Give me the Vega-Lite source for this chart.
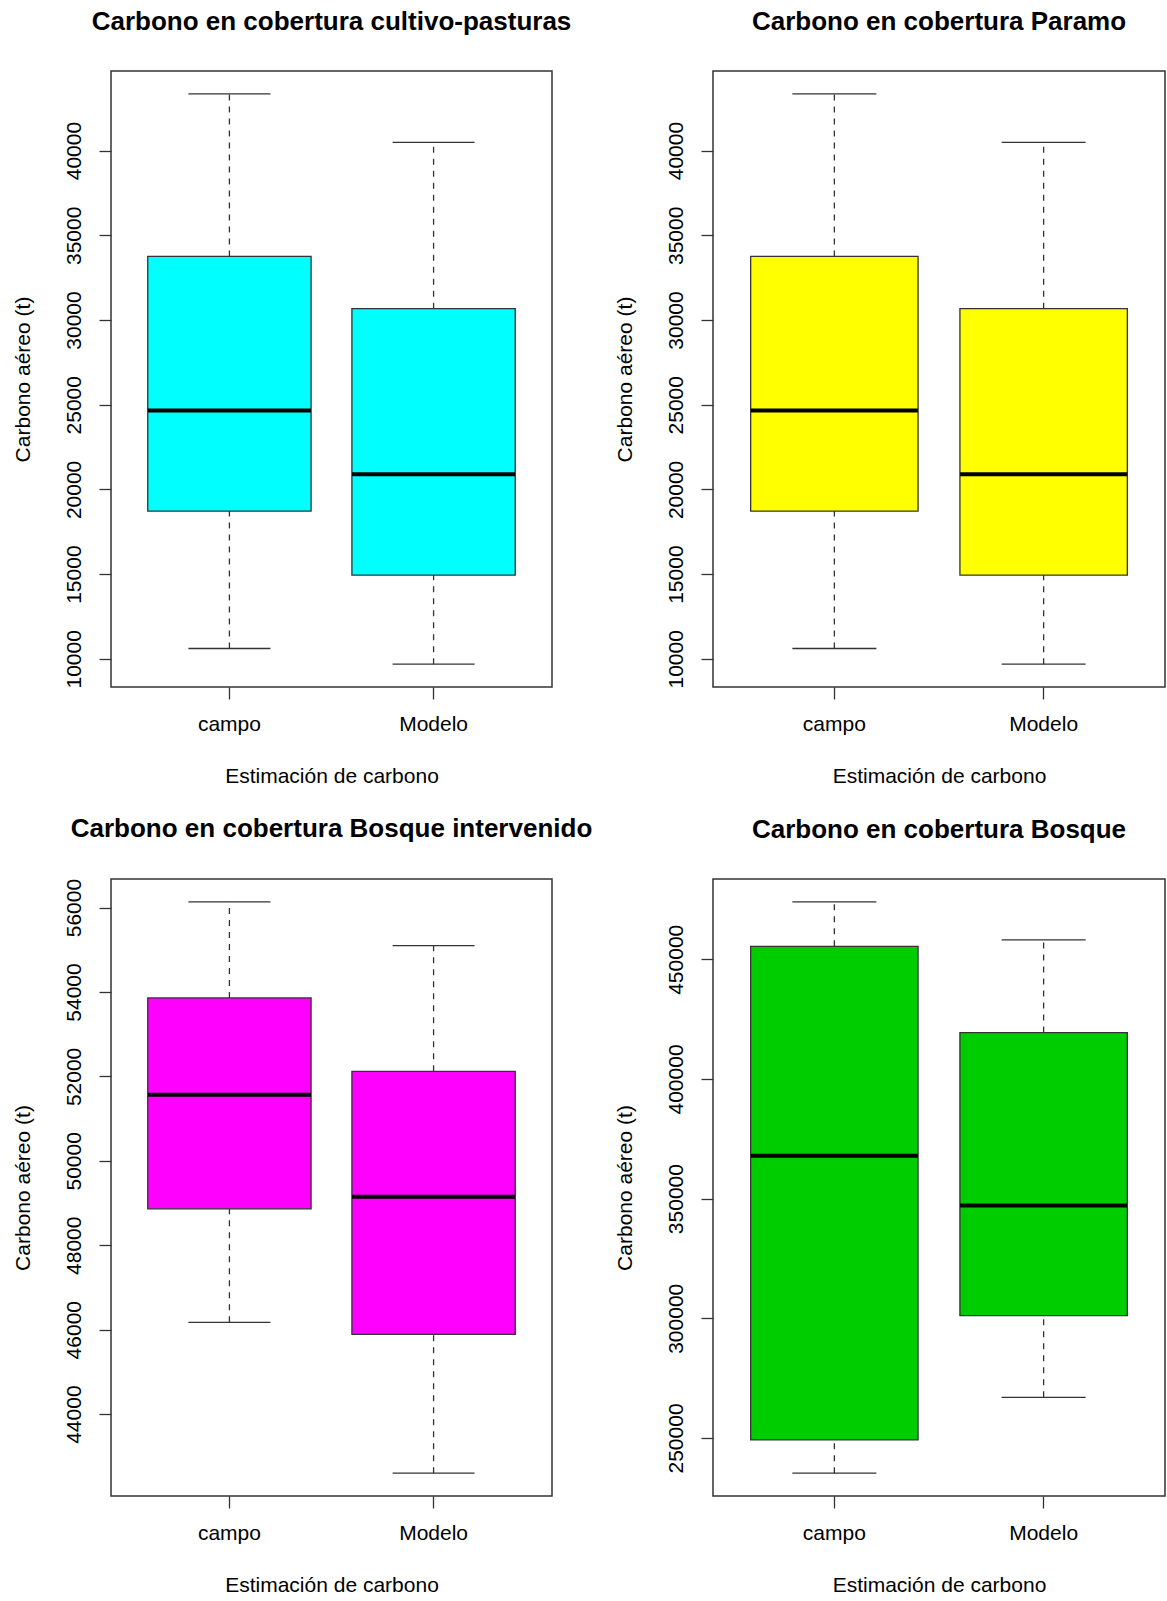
{
  "$schema": "https://vega.github.io/schema/vega-lite/v6.json",
  "background": "white",
  "padding": {"left": 11, "top": 8, "right": 0, "bottom": 0},
  "data": {
    "values": [
      {"cobertura": "cultivo-pasturas", "estimacion": "campo", "minimo": 10610, "q1": 18720, "mediana": 24660, "q3": 33750, "maximo": 43350},
      {"cobertura": "cultivo-pasturas", "estimacion": "Modelo", "minimo": 9685, "q1": 14945, "mediana": 20895, "q3": 30670, "maximo": 40480},
      {"cobertura": "Paramo", "estimacion": "campo", "minimo": 10610, "q1": 18720, "mediana": 24660, "q3": 33750, "maximo": 43350},
      {"cobertura": "Paramo", "estimacion": "Modelo", "minimo": 9685, "q1": 14945, "mediana": 20895, "q3": 30670, "maximo": 40480},
      {"cobertura": "Bosque intervenido", "estimacion": "campo", "minimo": 46174, "q1": 48862, "mediana": 51565, "q3": 53858, "maximo": 56135},
      {"cobertura": "Bosque intervenido", "estimacion": "Modelo", "minimo": 42601, "q1": 45890, "mediana": 49146, "q3": 52120, "maximo": 55099},
      {"cobertura": "Bosque", "estimacion": "campo", "minimo": 235300, "q1": 249200, "mediana": 367900, "q3": 455400, "maximo": 474000},
      {"cobertura": "Bosque", "estimacion": "Modelo", "minimo": 267000, "q1": 301100, "mediana": 347100, "q3": 419400, "maximo": 458100}
    ]
  },
  "columns": 2,
  "align": "all",
  "bounds": "flush",
  "spacing": {"row": 191, "column": 150},
  "concat": [
    {
      "title": "Carbono en cobertura cultivo-pasturas",
      "width": 441,
      "height": 616,
      "transform": [{"filter": "datum.cobertura === 'cultivo-pasturas'"}],
      "encoding": {
        "x": {"field": "estimacion", "type": "nominal", "sort": ["campo", "Modelo"], "scale": {"paddingInner": 0.2, "paddingOuter": 0.18}, "title": "Estimación de carbono",
          "axis": {"labelAngle": 0, "labelPadding": 31, "labelBaseline": "alphabetic", "titleY": 95, "titleBaseline": "alphabetic"}}
      },
      "layer": [
        {"mark": {"type": "rule", "color": "#333", "strokeWidth": 1.3, "strokeDash": [6, 6], "opacity": 1},
         "encoding": {"y": {"field": "q3", "type": "quantitative", "title": "Carbono aéreo (t)", "scale": {"domain": [8338, 44697], "nice": false, "zero": false},
           "axis": {"values": [10000, 15000, 20000, 25000, 30000, 35000, 40000], "format": "d", "labelAngle": -90, "labelAlign": "center", "labelBaseline": "alphabetic", "labelPadding": 19, "titleX": -82, "titleBaseline": "alphabetic", "labelOverlap": false, "labelFlush": false}},
           "y2": {"field": "maximo"}}},
        {"mark": {"type": "rule", "color": "#333", "strokeWidth": 1.3, "strokeDash": [6, 6], "opacity": 1},
         "encoding": {"y": {"field": "minimo", "type": "quantitative", "title": "Carbono aéreo (t)", "scale": {"domain": [8338, 44697], "nice": false, "zero": false},
           "axis": {"values": [10000, 15000, 20000, 25000, 30000, 35000, 40000], "format": "d", "labelAngle": -90, "labelAlign": "center", "labelBaseline": "alphabetic", "labelPadding": 19, "titleX": -82, "titleBaseline": "alphabetic", "labelOverlap": false, "labelFlush": false}},
           "y2": {"field": "q1"}}},
        {"mark": {"type": "tick", "color": "#333", "size": 82, "thickness": 1.3, "opacity": 1},
         "encoding": {"y": {"field": "maximo", "type": "quantitative", "title": "Carbono aéreo (t)", "scale": {"domain": [8338, 44697], "nice": false, "zero": false},
           "axis": {"values": [10000, 15000, 20000, 25000, 30000, 35000, 40000], "format": "d", "labelAngle": -90, "labelAlign": "center", "labelBaseline": "alphabetic", "labelPadding": 19, "titleX": -82, "titleBaseline": "alphabetic", "labelOverlap": false, "labelFlush": false}}}},
        {"mark": {"type": "tick", "color": "#333", "size": 82, "thickness": 1.3, "opacity": 1},
         "encoding": {"y": {"field": "minimo", "type": "quantitative", "title": "Carbono aéreo (t)", "scale": {"domain": [8338, 44697], "nice": false, "zero": false},
           "axis": {"values": [10000, 15000, 20000, 25000, 30000, 35000, 40000], "format": "d", "labelAngle": -90, "labelAlign": "center", "labelBaseline": "alphabetic", "labelPadding": 19, "titleX": -82, "titleBaseline": "alphabetic", "labelOverlap": false, "labelFlush": false}}}},
        {"mark": {"type": "bar", "fill": "#00FFFF", "stroke": "#333", "strokeWidth": 1.3, "opacity": 1},
         "encoding": {"y": {"field": "q1", "type": "quantitative", "title": "Carbono aéreo (t)", "scale": {"domain": [8338, 44697], "nice": false, "zero": false},
           "axis": {"values": [10000, 15000, 20000, 25000, 30000, 35000, 40000], "format": "d", "labelAngle": -90, "labelAlign": "center", "labelBaseline": "alphabetic", "labelPadding": 19, "titleX": -82, "titleBaseline": "alphabetic", "labelOverlap": false, "labelFlush": false}},
           "y2": {"field": "q3"}}},
        {"mark": {"type": "tick", "color": "#000", "size": 163, "thickness": 4, "opacity": 1},
         "encoding": {"y": {"field": "mediana", "type": "quantitative", "title": "Carbono aéreo (t)", "scale": {"domain": [8338, 44697], "nice": false, "zero": false},
           "axis": {"values": [10000, 15000, 20000, 25000, 30000, 35000, 40000], "format": "d", "labelAngle": -90, "labelAlign": "center", "labelBaseline": "alphabetic", "labelPadding": 19, "titleX": -82, "titleBaseline": "alphabetic", "labelOverlap": false, "labelFlush": false}}}}
      ]
    },
    {
      "title": "Carbono en cobertura Paramo",
      "width": 452,
      "height": 616,
      "transform": [{"filter": "datum.cobertura === 'Paramo'"}],
      "encoding": {
        "x": {"field": "estimacion", "type": "nominal", "sort": ["campo", "Modelo"], "scale": {"paddingInner": 0.2, "paddingOuter": 0.18}, "title": "Estimación de carbono",
          "axis": {"labelAngle": 0, "labelPadding": 31, "labelBaseline": "alphabetic", "titleY": 95, "titleBaseline": "alphabetic"}}
      },
      "layer": [
        {"mark": {"type": "rule", "color": "#333", "strokeWidth": 1.3, "strokeDash": [6, 6], "opacity": 1},
         "encoding": {"y": {"field": "q3", "type": "quantitative", "title": "Carbono aéreo (t)", "scale": {"domain": [8338, 44697], "nice": false, "zero": false},
           "axis": {"values": [10000, 15000, 20000, 25000, 30000, 35000, 40000], "format": "d", "labelAngle": -90, "labelAlign": "center", "labelBaseline": "alphabetic", "labelPadding": 19, "titleX": -82, "titleBaseline": "alphabetic", "labelOverlap": false, "labelFlush": false}},
           "y2": {"field": "maximo"}}},
        {"mark": {"type": "rule", "color": "#333", "strokeWidth": 1.3, "strokeDash": [6, 6], "opacity": 1},
         "encoding": {"y": {"field": "minimo", "type": "quantitative", "title": "Carbono aéreo (t)", "scale": {"domain": [8338, 44697], "nice": false, "zero": false},
           "axis": {"values": [10000, 15000, 20000, 25000, 30000, 35000, 40000], "format": "d", "labelAngle": -90, "labelAlign": "center", "labelBaseline": "alphabetic", "labelPadding": 19, "titleX": -82, "titleBaseline": "alphabetic", "labelOverlap": false, "labelFlush": false}},
           "y2": {"field": "q1"}}},
        {"mark": {"type": "tick", "color": "#333", "size": 84, "thickness": 1.3, "opacity": 1},
         "encoding": {"y": {"field": "maximo", "type": "quantitative", "title": "Carbono aéreo (t)", "scale": {"domain": [8338, 44697], "nice": false, "zero": false},
           "axis": {"values": [10000, 15000, 20000, 25000, 30000, 35000, 40000], "format": "d", "labelAngle": -90, "labelAlign": "center", "labelBaseline": "alphabetic", "labelPadding": 19, "titleX": -82, "titleBaseline": "alphabetic", "labelOverlap": false, "labelFlush": false}}}},
        {"mark": {"type": "tick", "color": "#333", "size": 84, "thickness": 1.3, "opacity": 1},
         "encoding": {"y": {"field": "minimo", "type": "quantitative", "title": "Carbono aéreo (t)", "scale": {"domain": [8338, 44697], "nice": false, "zero": false},
           "axis": {"values": [10000, 15000, 20000, 25000, 30000, 35000, 40000], "format": "d", "labelAngle": -90, "labelAlign": "center", "labelBaseline": "alphabetic", "labelPadding": 19, "titleX": -82, "titleBaseline": "alphabetic", "labelOverlap": false, "labelFlush": false}}}},
        {"mark": {"type": "bar", "fill": "#FFFF00", "stroke": "#333", "strokeWidth": 1.3, "opacity": 1},
         "encoding": {"y": {"field": "q1", "type": "quantitative", "title": "Carbono aéreo (t)", "scale": {"domain": [8338, 44697], "nice": false, "zero": false},
           "axis": {"values": [10000, 15000, 20000, 25000, 30000, 35000, 40000], "format": "d", "labelAngle": -90, "labelAlign": "center", "labelBaseline": "alphabetic", "labelPadding": 19, "titleX": -82, "titleBaseline": "alphabetic", "labelOverlap": false, "labelFlush": false}},
           "y2": {"field": "q3"}}},
        {"mark": {"type": "tick", "color": "#000", "size": 167, "thickness": 4, "opacity": 1},
         "encoding": {"y": {"field": "mediana", "type": "quantitative", "title": "Carbono aéreo (t)", "scale": {"domain": [8338, 44697], "nice": false, "zero": false},
           "axis": {"values": [10000, 15000, 20000, 25000, 30000, 35000, 40000], "format": "d", "labelAngle": -90, "labelAlign": "center", "labelBaseline": "alphabetic", "labelPadding": 19, "titleX": -82, "titleBaseline": "alphabetic", "labelOverlap": false, "labelFlush": false}}}}
      ]
    },
    {
      "title": "Carbono en cobertura Bosque intervenido",
      "width": 441,
      "height": 617,
      "transform": [{"filter": "datum.cobertura === 'Bosque intervenido'"}],
      "encoding": {
        "x": {"field": "estimacion", "type": "nominal", "sort": ["campo", "Modelo"], "scale": {"paddingInner": 0.2, "paddingOuter": 0.18}, "title": "Estimación de carbono",
          "axis": {"labelAngle": 0, "labelPadding": 31, "labelBaseline": "alphabetic", "titleY": 95, "titleBaseline": "alphabetic"}}
      },
      "layer": [
        {"mark": {"type": "rule", "color": "#333", "strokeWidth": 1.3, "strokeDash": [6, 6], "opacity": 1},
         "encoding": {"y": {"field": "q3", "type": "quantitative", "title": "Carbono aéreo (t)", "scale": {"domain": [42060, 56676], "nice": false, "zero": false},
           "axis": {"values": [44000, 46000, 48000, 50000, 52000, 54000, 56000], "format": "d", "labelAngle": -90, "labelAlign": "center", "labelBaseline": "alphabetic", "labelPadding": 19, "titleX": -82, "titleBaseline": "alphabetic", "labelOverlap": false, "labelFlush": false}},
           "y2": {"field": "maximo"}}},
        {"mark": {"type": "rule", "color": "#333", "strokeWidth": 1.3, "strokeDash": [6, 6], "opacity": 1},
         "encoding": {"y": {"field": "minimo", "type": "quantitative", "title": "Carbono aéreo (t)", "scale": {"domain": [42060, 56676], "nice": false, "zero": false},
           "axis": {"values": [44000, 46000, 48000, 50000, 52000, 54000, 56000], "format": "d", "labelAngle": -90, "labelAlign": "center", "labelBaseline": "alphabetic", "labelPadding": 19, "titleX": -82, "titleBaseline": "alphabetic", "labelOverlap": false, "labelFlush": false}},
           "y2": {"field": "q1"}}},
        {"mark": {"type": "tick", "color": "#333", "size": 82, "thickness": 1.3, "opacity": 1},
         "encoding": {"y": {"field": "maximo", "type": "quantitative", "title": "Carbono aéreo (t)", "scale": {"domain": [42060, 56676], "nice": false, "zero": false},
           "axis": {"values": [44000, 46000, 48000, 50000, 52000, 54000, 56000], "format": "d", "labelAngle": -90, "labelAlign": "center", "labelBaseline": "alphabetic", "labelPadding": 19, "titleX": -82, "titleBaseline": "alphabetic", "labelOverlap": false, "labelFlush": false}}}},
        {"mark": {"type": "tick", "color": "#333", "size": 82, "thickness": 1.3, "opacity": 1},
         "encoding": {"y": {"field": "minimo", "type": "quantitative", "title": "Carbono aéreo (t)", "scale": {"domain": [42060, 56676], "nice": false, "zero": false},
           "axis": {"values": [44000, 46000, 48000, 50000, 52000, 54000, 56000], "format": "d", "labelAngle": -90, "labelAlign": "center", "labelBaseline": "alphabetic", "labelPadding": 19, "titleX": -82, "titleBaseline": "alphabetic", "labelOverlap": false, "labelFlush": false}}}},
        {"mark": {"type": "bar", "fill": "#FF00FF", "stroke": "#333", "strokeWidth": 1.3, "opacity": 1},
         "encoding": {"y": {"field": "q1", "type": "quantitative", "title": "Carbono aéreo (t)", "scale": {"domain": [42060, 56676], "nice": false, "zero": false},
           "axis": {"values": [44000, 46000, 48000, 50000, 52000, 54000, 56000], "format": "d", "labelAngle": -90, "labelAlign": "center", "labelBaseline": "alphabetic", "labelPadding": 19, "titleX": -82, "titleBaseline": "alphabetic", "labelOverlap": false, "labelFlush": false}},
           "y2": {"field": "q3"}}},
        {"mark": {"type": "tick", "color": "#000", "size": 163, "thickness": 4, "opacity": 1},
         "encoding": {"y": {"field": "mediana", "type": "quantitative", "title": "Carbono aéreo (t)", "scale": {"domain": [42060, 56676], "nice": false, "zero": false},
           "axis": {"values": [44000, 46000, 48000, 50000, 52000, 54000, 56000], "format": "d", "labelAngle": -90, "labelAlign": "center", "labelBaseline": "alphabetic", "labelPadding": 19, "titleX": -82, "titleBaseline": "alphabetic", "labelOverlap": false, "labelFlush": false}}}}
      ]
    },
    {
      "title": "Carbono en cobertura Bosque",
      "width": 452,
      "height": 617,
      "transform": [{"filter": "datum.cobertura === 'Bosque'"}],
      "encoding": {
        "x": {"field": "estimacion", "type": "nominal", "sort": ["campo", "Modelo"], "scale": {"paddingInner": 0.2, "paddingOuter": 0.18}, "title": "Estimación de carbono",
          "axis": {"labelAngle": 0, "labelPadding": 31, "labelBaseline": "alphabetic", "titleY": 95, "titleBaseline": "alphabetic"}}
      },
      "layer": [
        {"mark": {"type": "rule", "color": "#333", "strokeWidth": 1.3, "strokeDash": [6, 6], "opacity": 1},
         "encoding": {"y": {"field": "q3", "type": "quantitative", "title": "Carbono aéreo (t)", "scale": {"domain": [225752, 483548], "nice": false, "zero": false},
           "axis": {"values": [250000, 300000, 350000, 400000, 450000], "format": "d", "labelAngle": -90, "labelAlign": "center", "labelBaseline": "alphabetic", "labelPadding": 19, "titleX": -82, "titleBaseline": "alphabetic", "labelOverlap": false, "labelFlush": false}},
           "y2": {"field": "maximo"}}},
        {"mark": {"type": "rule", "color": "#333", "strokeWidth": 1.3, "strokeDash": [6, 6], "opacity": 1},
         "encoding": {"y": {"field": "minimo", "type": "quantitative", "title": "Carbono aéreo (t)", "scale": {"domain": [225752, 483548], "nice": false, "zero": false},
           "axis": {"values": [250000, 300000, 350000, 400000, 450000], "format": "d", "labelAngle": -90, "labelAlign": "center", "labelBaseline": "alphabetic", "labelPadding": 19, "titleX": -82, "titleBaseline": "alphabetic", "labelOverlap": false, "labelFlush": false}},
           "y2": {"field": "q1"}}},
        {"mark": {"type": "tick", "color": "#333", "size": 84, "thickness": 1.3, "opacity": 1},
         "encoding": {"y": {"field": "maximo", "type": "quantitative", "title": "Carbono aéreo (t)", "scale": {"domain": [225752, 483548], "nice": false, "zero": false},
           "axis": {"values": [250000, 300000, 350000, 400000, 450000], "format": "d", "labelAngle": -90, "labelAlign": "center", "labelBaseline": "alphabetic", "labelPadding": 19, "titleX": -82, "titleBaseline": "alphabetic", "labelOverlap": false, "labelFlush": false}}}},
        {"mark": {"type": "tick", "color": "#333", "size": 84, "thickness": 1.3, "opacity": 1},
         "encoding": {"y": {"field": "minimo", "type": "quantitative", "title": "Carbono aéreo (t)", "scale": {"domain": [225752, 483548], "nice": false, "zero": false},
           "axis": {"values": [250000, 300000, 350000, 400000, 450000], "format": "d", "labelAngle": -90, "labelAlign": "center", "labelBaseline": "alphabetic", "labelPadding": 19, "titleX": -82, "titleBaseline": "alphabetic", "labelOverlap": false, "labelFlush": false}}}},
        {"mark": {"type": "bar", "fill": "#00CD00", "stroke": "#333", "strokeWidth": 1.3, "opacity": 1},
         "encoding": {"y": {"field": "q1", "type": "quantitative", "title": "Carbono aéreo (t)", "scale": {"domain": [225752, 483548], "nice": false, "zero": false},
           "axis": {"values": [250000, 300000, 350000, 400000, 450000], "format": "d", "labelAngle": -90, "labelAlign": "center", "labelBaseline": "alphabetic", "labelPadding": 19, "titleX": -82, "titleBaseline": "alphabetic", "labelOverlap": false, "labelFlush": false}},
           "y2": {"field": "q3"}}},
        {"mark": {"type": "tick", "color": "#000", "size": 167, "thickness": 4, "opacity": 1},
         "encoding": {"y": {"field": "mediana", "type": "quantitative", "title": "Carbono aéreo (t)", "scale": {"domain": [225752, 483548], "nice": false, "zero": false},
           "axis": {"values": [250000, 300000, 350000, 400000, 450000], "format": "d", "labelAngle": -90, "labelAlign": "center", "labelBaseline": "alphabetic", "labelPadding": 19, "titleX": -82, "titleBaseline": "alphabetic", "labelOverlap": false, "labelFlush": false}}}}
      ]
    }
  ],
  "config": {
    "font": "Liberation Sans",
    "view": {"stroke": "#333", "strokeWidth": 1.5},
    "title": {"font": "Liberation Sans", "fontSize": 26, "fontWeight": "bold", "color": "#000", "baseline": "alphabetic", "offset": 36, "frame": "group", "anchor": "middle"},
    "axis": {
      "domain": false,
      "grid": false,
      "labelFont": "Liberation Sans",
      "labelFontSize": 21,
      "labelColor": "#000",
      "titleFont": "Liberation Sans",
      "titleFontSize": 21,
      "titleFontWeight": "normal",
      "titleColor": "#000",
      "tickColor": "#333",
      "tickWidth": 1.3,
      "tickSize": 12
    }
  }
}
